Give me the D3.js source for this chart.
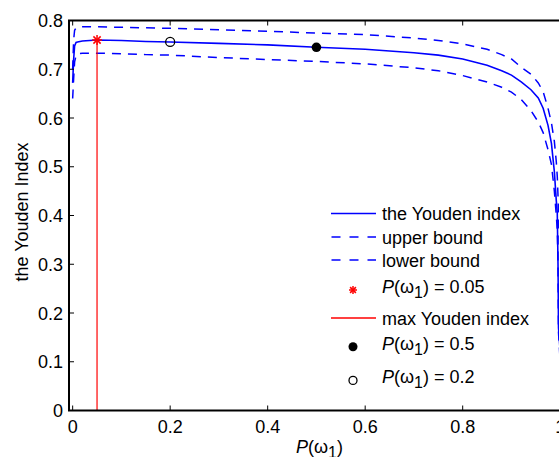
<!DOCTYPE html>
<html><head><meta charset="utf-8">
<script src="https://cdn.jsdelivr.net/npm/d3@7"></script>
<style>
html,body{margin:0;padding:0;background:#fff;overflow:hidden}
svg text{font-family:"Liberation Sans",Arial,Helvetica,sans-serif;fill:#000}
</style></head>
<body><svg id="chart" width="559" height="457"></svg>
<script>
// ---- data ----
const pGrid = [0, 0.002, 0.004, 0.007, 0.01, 0.02, 0.05, 0.1, 0.15, 0.2, 0.3, 0.4, 0.5, 0.6, 0.7, 0.75, 0.8, 0.85, 0.88, 0.9, 0.92, 0.94, 0.955, 0.965, 0.975, 0.982, 0.988, 0.992, 0.994, 0.9955, 0.9965, 1];
const youden = [0.672, 0.72, 0.748, 0.755, 0.756, 0.758, 0.760, 0.759, 0.757, 0.756, 0.753, 0.750, 0.745, 0.741, 0.734, 0.729, 0.721, 0.708, 0.697, 0.688, 0.674, 0.658, 0.641, 0.620, 0.585, 0.548, 0.49, 0.43, 0.405, 0.30, 0.17, 0.12];
const upperBound = [0.70, 0.76, 0.780, 0.785, 0.786, 0.787, 0.787, 0.786, 0.785, 0.784, 0.781, 0.778, 0.774, 0.771, 0.764, 0.759, 0.752, 0.741, 0.730, 0.721, 0.704, 0.690, 0.672, 0.654, 0.620, 0.590, 0.552, 0.51, 0.48, 0.44, 0.40, 0.25];
const lowerBound = [0.64, 0.68, 0.715, 0.728, 0.732, 0.733, 0.733, 0.732, 0.730, 0.729, 0.724, 0.720, 0.716, 0.711, 0.703, 0.697, 0.687, 0.674, 0.663, 0.653, 0.638, 0.615, 0.592, 0.570, 0.535, 0.505, 0.45, 0.40, 0.37, 0.30, 0.16, 0.10];
const maxPoint = [0.05, 0.760];
const halfPoint = [0.5, 0.745];
const fifthPoint = [0.2, 0.756];
const xTicks = [0, 0.2, 0.4, 0.6, 0.8, 1];
const yTicks = [0, 0.1, 0.2, 0.3, 0.4, 0.5, 0.6, 0.7, 0.8];
const legendLabels = ["the Youden index", "upper bound", "lower bound", "P=0.05", "max Youden index", "P=0.5", "P=0.2"];

// ---- layout ----
const svg = d3.select("#chart");
const L = 69, R = 566.3, T = 20.5, B = 410.5;
const x = d3.scaleLinear().domain([-0.0075, 1.0125]).range([L, R]);
const y = d3.scaleLinear().domain([0, 0.8]).range([B, T]);
const blue = "#0000ff", red = "#ff0000";

svg.append("defs").append("clipPath").attr("id","clip")
  .append("rect").attr("x",L).attr("y",T).attr("width",R-L).attr("height",B-T);

const plot = svg.append("g").attr("clip-path","url(#clip)");
const mk = arr => pGrid.map((p,i)=>[p,arr[i]]);
const line = d3.line().x(d=>x(d[0])).y(d=>y(d[1]));

plot.append("path").datum(mk(upperBound)).attr("d",line)
  .attr("fill","none").attr("stroke",blue).attr("stroke-width",1.5).attr("stroke-dasharray","9,7");
plot.append("path").datum(mk(lowerBound)).attr("d",line)
  .attr("fill","none").attr("stroke",blue).attr("stroke-width",1.5).attr("stroke-dasharray","9,7");
plot.append("path").datum(mk(youden)).attr("d",line)
  .attr("fill","none").attr("stroke",blue).attr("stroke-width",1.6);

// red vertical line
plot.append("line").attr("x1",x(maxPoint[0])).attr("x2",x(maxPoint[0]))
  .attr("y1",y(0)).attr("y2",y(maxPoint[1])).attr("stroke",red).attr("stroke-width",1.2);

function asterisk(g, cx, cy, r, color){
  const a = r*0.72;
  const segs = [[-r,0,r,0],[0,-r,0,r],[-a,-a,a,a],[-a,a,a,-a]];
  segs.forEach(s=>g.append("line").attr("x1",cx+s[0]).attr("y1",cy+s[1]).attr("x2",cx+s[2]).attr("y2",cy+s[3])
    .attr("stroke",color).attr("stroke-width",1.5));
}
asterisk(svg, x(maxPoint[0]), y(maxPoint[1]), 5, red);
svg.append("circle").attr("cx",x(halfPoint[0])).attr("cy",y(halfPoint[1])).attr("r",4.8).attr("fill","#000");
svg.append("circle").attr("cx",x(fifthPoint[0])).attr("cy",y(fifthPoint[1])).attr("r",4.5)
  .attr("fill","none").attr("stroke","#000").attr("stroke-width",1.3);

// ---- axes ----
const ax = svg.append("g");
ax.append("rect").attr("x",L).attr("y",T).attr("width",R-L).attr("height",B-T)
  .attr("fill","none").attr("stroke","#000").attr("stroke-width",2);
xTicks.forEach(t=>{
  ax.append("line").attr("x1",x(t)).attr("x2",x(t)).attr("y1",B).attr("y2",B-5).attr("stroke","#000").attr("stroke-width",1);
  ax.append("line").attr("x1",x(t)).attr("x2",x(t)).attr("y1",T).attr("y2",T+5).attr("stroke","#000").attr("stroke-width",1);
  ax.append("text").attr("x",x(t)).attr("y",B+22).attr("text-anchor","middle").attr("font-size",18).text(d3.format("~g")(t));
});
yTicks.forEach(t=>{
  ax.append("line").attr("x1",L).attr("x2",L+5).attr("y1",y(t)).attr("y2",y(t)).attr("stroke","#000").attr("stroke-width",1);
  ax.append("line").attr("x1",R).attr("x2",R-5).attr("y1",y(t)).attr("y2",y(t)).attr("stroke","#000").attr("stroke-width",1);
  ax.append("text").attr("x",L-6).attr("y",y(t)+6.5).attr("text-anchor","end").attr("font-size",18).text(d3.format("~g")(t));
});

// axis labels
svg.append("text").attr("transform","translate(28,212) rotate(-90)").attr("text-anchor","middle")
  .attr("font-size",18).text("the Youden Index");

function pLabel(sel, value){
  sel.append("tspan").attr("font-style","italic").text("P");
  sel.append("tspan").text("(\u03C9");
  sel.append("tspan").attr("dy",5).attr("font-size",16).text("1");
  sel.append("tspan").attr("dy",-5).text(value===null ? ")" : ") = " + value);
}
const xl = svg.append("text").attr("x",296).attr("y",453).attr("font-size",18);
pLabel(xl, null);

// ---- legend ----
const lg = svg.append("g");
const sx1 = 331, sx2 = 376, mx = 353, tx = 382;
const base = [220, 244, 267, 293, 325, 350, 383];
lg.append("line").attr("x1",sx1).attr("x2",sx2).attr("y1",base[0]-6.5).attr("y2",base[0]-6.5).attr("stroke",blue).attr("stroke-width",1.6);
lg.append("text").attr("x",tx).attr("y",base[0]).attr("font-size",18).text(legendLabels[0]);
[1,2].forEach(i=>{
  lg.append("line").attr("x1",sx1+0.5).attr("x2",sx2).attr("y1",base[i]-7).attr("y2",base[i]-7)
    .attr("stroke",blue).attr("stroke-width",1.5).attr("stroke-dasharray","9,9");
  lg.append("text").attr("x",tx).attr("y",base[i]).attr("font-size",18).text(legendLabels[i]);
});
asterisk(lg, mx, base[3]-3, 4, red);
pLabel(lg.append("text").attr("x",tx).attr("y",base[3]).attr("font-size",18), "0.05");
lg.append("line").attr("x1",sx1).attr("x2",sx2).attr("y1",base[4]-7).attr("y2",base[4]-7).attr("stroke",red).attr("stroke-width",1.3);
lg.append("text").attr("x",tx).attr("y",base[4]).attr("font-size",18).text(legendLabels[4]);
lg.append("circle").attr("cx",mx).attr("cy",base[5]-3.3).attr("r",4.5).attr("fill","#000");
pLabel(lg.append("text").attr("x",tx).attr("y",base[5]).attr("font-size",18), "0.5");
lg.append("circle").attr("cx",mx).attr("cy",base[6]-2.6).attr("r",4).attr("fill","none").attr("stroke","#000").attr("stroke-width",1.3);
pLabel(lg.append("text").attr("x",tx).attr("y",base[6]).attr("font-size",18), "0.2");
</script></body></html>
